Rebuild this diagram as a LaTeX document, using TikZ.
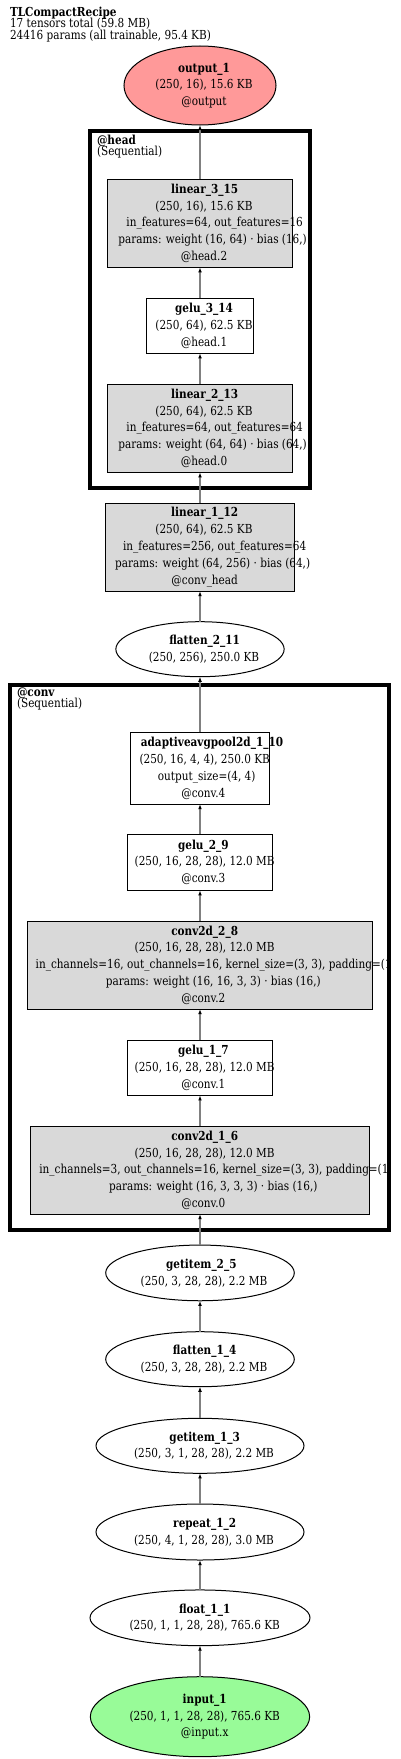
\documentclass[tikz,border=0pt]{standalone}
\usepackage{fontspec}
\setmainfont{DejaVu Serif}[FakeStretch=0.845]
\usetikzlibrary{arrows.meta,shapes.geometric}
\definecolor{boxgray}{HTML}{D9D9D9}
\definecolor{edgegray}{HTML}{808080}
\definecolor{outred}{HTML}{FF9999}
\definecolor{ingreen}{HTML}{98FB98}
\newcommand{\Ln}[2][3pt]{\makebox[0pt]{\hspace*{#1}\hspace*{#1}#2}}
\newcommand{\Lft}[2]{\makebox[0pt][l]{\hspace*{#1}#2}}
\tikzset{
  sz/.style 2 args={minimum width=#1*0.75pt, minimum height=#2*0.75pt},
  base/.style={inner sep=0pt, outer sep=0pt, align=center, line width=0.75pt, draw=black,
    font=\fontsize{9.3}{12.6}\selectfont},
  opbox/.style={base, rectangle, fill=boxgray},
  plainbox/.style={base, rectangle, fill=white},
  oval/.style={base, ellipse, fill=white},
  lbl/.style={inner sep=0pt, outer sep=0pt, font=\fontsize{9.3}{11}\selectfont},
  cluster/.style={draw=black, line width=3pt},
  edge/.style={draw=edgegray, line width=1.3pt, -{Latex[color=black,length=3.8pt,width=2.8pt]}}
}
\begin{document}
\begin{tikzpicture}[x=0.75pt, y=-0.75pt]
\useasboundingbox (0,0) rectangle (400,1759);
% title
\node[lbl, anchor=base west] (t1) at (10,16.3) {\textbf{TLCompactRecipe}};
\node[lbl, anchor=base west] (t2) at (10,27.7) {17 tensors total (59.8 MB)};
\node[lbl, anchor=base west] (t3) at (10,39.1) {24416 params (all trainable, 95.4 KB)};
% clusters
\draw[cluster] (90,131.3) rectangle (309.7,488);
\node[lbl, anchor=base west] (headlbl) at (97,144.3) {\textbf{@head}};
\node[lbl, anchor=base west] (headsub) at (97,155.3) {(Sequential)};
\draw[cluster] (10,685) rectangle (388.7,1229.5);
\node[lbl, anchor=base west] (convlbl) at (17,696.8) {\textbf{@conv}};
\node[lbl, anchor=base west] (convsub) at (17,707.6) {(Sequential)};
% nodes
\node[oval, fill=outred, sz={152}{79}] (out) at (200,85.5)
  {\Ln{\textbf{output\_1}}\\\Ln{(250, 16), 15.6 KB}\\\Ln{@output}};
\node[opbox, sz={184.3}{88}] (lin3) at (200,223.3)
  {\Ln[3.5pt]{\textbf{linear\_3\_15}}\\\Ln{(250, 16), 15.6 KB}\\\Ln[11pt]{in\_features=64, out\_features=16}\\\Ln[9.5pt]{params: weight (16, 64) · bias (16,)}\\\Ln{@head.2}};
\node[plainbox, sz={107.7}{55}] (gelu3) at (200,325.8)
  {\Ln{\textbf{gelu\_3\_14}}\\\Ln{(250, 64), 62.5 KB}\\\Ln{@head.1}};
\node[opbox, sz={184.3}{88}] (lin2) at (200,428.3)
  {\Ln[3.5pt]{\textbf{linear\_2\_13}}\\\Ln{(250, 64), 62.5 KB}\\\Ln[11pt]{in\_features=64, out\_features=64}\\\Ln[9.5pt]{params: weight (64, 64) · bias (64,)}\\\Ln{@head.0}};
\node[opbox, sz={189.7}{87.7}] (lin1) at (200,547.2)
  {\Ln[3.5pt]{\textbf{linear\_1\_12}}\\\Ln{(250, 64), 62.5 KB}\\\Ln[11pt]{in\_features=256, out\_features=64}\\\Ln[9.5pt]{params: weight (64, 256) · bias (64,)}\\\Ln[3.5pt]{@conv\_head}};
\node[oval, sz={168.3}{55}] (flat2) at (200,649.2)
  {\Ln[3.5pt]{\textbf{flatten\_2\_11}}\\\Ln{(250, 256), 250.0 KB}};
\node[plainbox, sz={139.3}{71.7}] (pool) at (200,768.2)
  {\Ln[9pt]{\textbf{adaptiveavgpool2d\_1\_10}}\\\Ln[3.5pt]{(250, 16, 4, 4), 250.0 KB}\\\Ln[5pt]{output\_size=(4, 4)}\\\Ln[2.5pt]{@conv.4}};
\node[plainbox, sz={145}{56}] (gelu2) at (200,862.3)
  {\Ln[2.5pt]{\textbf{gelu\_2\_9}}\\\Ln[3.5pt]{(250, 16, 28, 28), 12.0 MB}\\\Ln[2.5pt]{@conv.3}};
\node[opbox, sz={345}{88}] (conv2) at (200,965)
  {\Ln[3.5pt]{\textbf{conv2d\_2\_8}}\\\Ln[3.5pt]{(250, 16, 28, 28), 12.0 MB}\\\Lft{-123.2pt}{in\_channels=16, out\_channels=16, kernel\_size=(3, 3), padding=(1}\\\Ln[10pt]{params: weight (16, 16, 3, 3) · bias (16,)}\\\Ln[2.5pt]{@conv.2}};
\node[plainbox, sz={145}{55.3}] (gelu1) at (200,1067.7)
  {\Ln[2.5pt]{\textbf{gelu\_1\_7}}\\\Ln[3.5pt]{(250, 16, 28, 28), 12.0 MB}\\\Ln[2.5pt]{@conv.1}};
\node[opbox, sz={338.6}{87.7}] (conv1) at (200,1170.2)
  {\Ln[3.5pt]{\textbf{conv2d\_1\_6}}\\\Ln[3.5pt]{(250, 16, 28, 28), 12.0 MB}\\\Lft{-120.5pt}{in\_channels=3, out\_channels=16, kernel\_size=(3, 3), padding=(1,}\\\Ln[10pt]{params: weight (16, 3, 3, 3) · bias (16,)}\\\Ln[2.5pt]{@conv.0}};
\node[oval, sz={188.6}{55.7}] (get2) at (200,1272.9)
  {\Ln[1pt]{\textbf{getitem\_2\_5}}\\\Ln{(250, 3, 28, 28), 2.2 MB}};
\node[oval, sz={188.6}{55}] (flat1) at (200,1359.2)
  {\Ln[3.5pt]{\textbf{flatten\_1\_4}}\\\Ln{(250, 3, 28, 28), 2.2 MB}};
\node[oval, sz={208}{55}] (get1) at (200,1445.8)
  {\Ln[3.5pt]{\textbf{getitem\_1\_3}}\\\Ln{(250, 3, 1, 28, 28), 2.2 MB}};
\node[oval, sz={208}{56}] (rep) at (200,1532)
  {\Ln[3.5pt]{\textbf{repeat\_1\_2}}\\\Ln{(250, 4, 1, 28, 28), 3.0 MB}};
\node[oval, sz={220}{55.7}] (flt) at (200,1617.8)
  {\Ln[3.5pt]{\textbf{float\_1\_1}}\\\Ln[3.5pt]{(250, 1, 1, 28, 28), 765.6 KB}};
\node[oval, fill=ingreen, sz={219.3}{80}] (inp) at (200,1716.7)
  {\Ln[3.5pt]{\textbf{input\_1}}\\\Ln[3.5pt]{(250, 1, 1, 28, 28), 765.6 KB}\\\Ln[3.5pt]{@input.x}};
% edges
\draw[edge] (inp) -- (flt);
\draw[edge] (flt) -- (rep);
\draw[edge] (rep) -- (get1);
\draw[edge] (get1) -- (flat1);
\draw[edge] (flat1) -- (get2);
\draw[edge] (get2) -- (conv1);
\draw[edge] (conv1) -- (gelu1);
\draw[edge] (gelu1) -- (conv2);
\draw[edge] (conv2) -- (gelu2);
\draw[edge] (gelu2) -- (pool);
\draw[edge] (pool) -- (flat2);
\draw[edge] (flat2) -- (lin1);
\draw[edge] (lin1) -- (lin2);
\draw[edge] (lin2) -- (gelu3);
\draw[edge] (gelu3) -- (lin3);
\draw[edge] (lin3) -- (out);
\end{tikzpicture}
\end{document}
